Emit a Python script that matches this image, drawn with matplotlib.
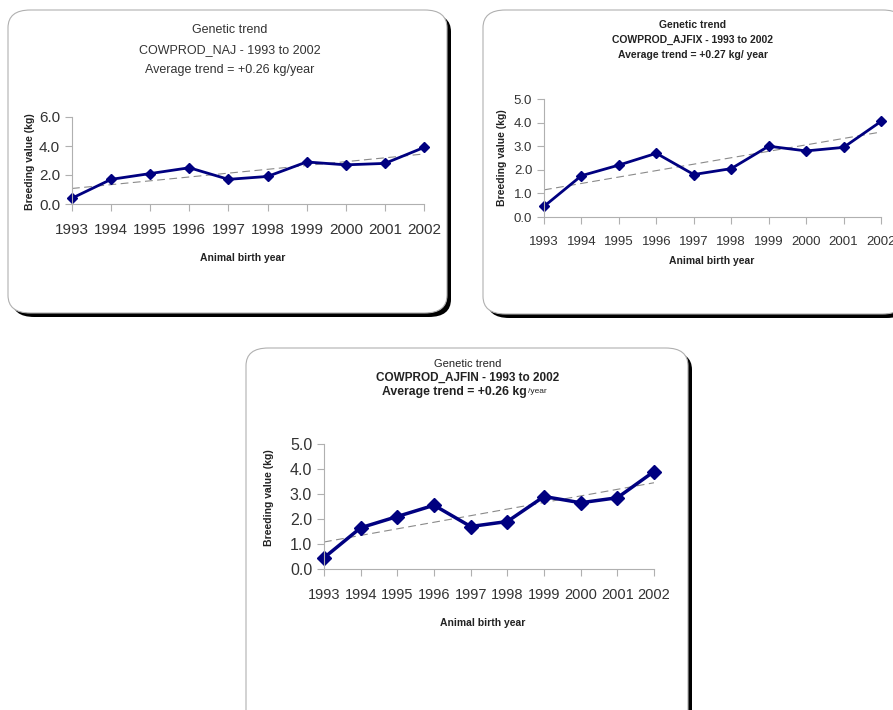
import numpy as np
import matplotlib
matplotlib.use("Agg")
import matplotlib.pyplot as plt
from matplotlib.patches import FancyBboxPatch

plt.rcParams['font.family'] = ['Liberation Sans', 'DejaVu Sans']

# data
years = [1993, 1994, 1995, 1996, 1997, 1998, 1999, 2000, 2001, 2002]
naj = [0.4, 1.7, 2.1, 2.5, 1.7, 1.9, 2.9, 2.7, 2.8, 3.9]
ajfix = [0.45, 1.75, 2.2, 2.7, 1.8, 2.05, 3.0, 2.8, 2.95, 4.05]
ajfin = [0.45, 1.65, 2.1, 2.55, 1.7, 1.9, 2.9, 2.65, 2.85, 3.9]

W, H = 893, 710
fig = plt.figure(figsize=(W / 100, H / 100), dpi=100)
fig.patch.set_facecolor("white")


def fx(x):
    return x / W


def fy(y):
    return 1 - y / H


def box(x0, y0, x1, y1):
    # black shadow then white rounded panel, kept under the axes
    sh = FancyBboxPatch((fx(x0 + 4), fy(y1 + 4)), fx(x1 - x0), (y1 - y0) / H,
                        boxstyle="round,pad=0,rounding_size=0.025",
                        transform=fig.transFigure, facecolor="black",
                        edgecolor="black", lw=0, zorder=-2)
    bx = FancyBboxPatch((fx(x0), fy(y1)), fx(x1 - x0), (y1 - y0) / H,
                        boxstyle="round,pad=0,rounding_size=0.025",
                        transform=fig.transFigure, facecolor="white",
                        edgecolor="#b0b0b0", lw=0.8, zorder=-1)
    fig.patches.append(sh)
    fig.patches.append(bx)


def panel(left, right, y0, ytop, ymax, vals, xfs, yfs, lw, ms):
    ax = fig.add_axes([fx(left), fy(y0), fx(right - left), (y0 - ytop) / H])
    ax.set_zorder(1)
    ax.set_xlim(years[0], years[-1])
    ax.set_ylim(0, ymax)
    ax.patch.set_alpha(0)
    for s in ["top", "right"]:
        ax.spines[s].set_visible(False)
    for s in ["left", "bottom"]:
        ax.spines[s].set_color("#b0b0b0")
        ax.spines[s].set_linewidth(0.8)
    ax.set_xticks(years)
    step = 2.0 if ymax == 6 else 1.0
    ax.set_yticks(np.arange(0, ymax + 0.01, step))
    ax.yaxis.set_major_formatter(matplotlib.ticker.FormatStrFormatter("%.1f"))
    ax.tick_params(axis="both", colors="#b0b0b0", labelcolor="#333333",
                   length=5, width=0.8)
    ax.tick_params(axis="x", pad=9, labelsize=xfs)
    ax.tick_params(axis="y", labelsize=yfs)
    # linear trend
    k, b = np.polyfit(years, vals, 1)
    ax.plot(years, [k * x + b for x in years], color="#8a8a8a", lw=0.8,
            dashes=(7, 4))
    ax.plot(years, vals, color="#000080", lw=lw, marker="D", ms=ms,
            clip_on=False)
    return ax


# panel 1
box(8, 10, 447, 313)
ax1 = panel(72, 424, 204, 117, 6, naj, 11, 11, 2.0, 5)
fig.text(fx(230), fy(30), "Genetic trend", ha="center", va="center",
         fontsize=9, color="#333333")
fig.text(fx(230), fy(50), "COWPROD_NAJ - 1993 to 2002", ha="center",
         va="center", fontsize=9, color="#333333")
fig.text(fx(230), fy(70), "Average trend = +0.26 kg/year", ha="center",
         va="center", fontsize=9, color="#333333")
fig.text(fx(30), fy(162), "Breeding value (kg)", rotation=90, ha="center",
         va="center", fontsize=7.5, fontweight="bold", color="#222222")
fig.text(fx(243), fy(258), "Animal birth year", ha="center", va="center",
         fontsize=7.5, fontweight="bold", color="#222222")

# panel 2
box(483, 10, 905, 314)
ax2 = panel(544, 881, 217, 99, 5, ajfix, 9.5, 9.5, 2.0, 5)
fig.text(fx(693), fy(25), "Genetic trend", ha="center", va="center",
         fontsize=7.5, fontweight="bold", color="#222222")
fig.text(fx(693), fy(40), "COWPROD_AJFIX - 1993 to 2002", ha="center",
         va="center", fontsize=7.5, fontweight="bold", color="#222222")
fig.text(fx(693), fy(55), "Average trend = +0.27 kg/ year", ha="center",
         va="center", fontsize=7.5, fontweight="bold", color="#222222")
fig.text(fx(502), fy(158), "Breeding value (kg)", rotation=90, ha="center",
         va="center", fontsize=7.5, fontweight="bold", color="#222222")
fig.text(fx(712), fy(261), "Animal birth year", ha="center", va="center",
         fontsize=7.5, fontweight="bold", color="#222222")

# panel 3
box(246, 348, 688, 740)
ax3 = panel(324, 654, 569, 444, 5, ajfin, 10.5, 11.5, 2.5, 7)
fig.text(fx(468), fy(364), "Genetic trend", ha="center", va="center",
         fontsize=8, color="#222222")
fig.text(fx(468), fy(378), "COWPROD_AJFIN - 1993 to 2002",
         ha="center", va="center", fontsize=8.5, fontweight="bold",
         color="#222222")
fig.text(fx(527), fy(392), "Average trend = +0.26 kg",
         ha="right", va="center", fontsize=8.8, fontweight="bold",
         color="#222222")
fig.text(fx(528), fy(391), "/year", ha="left", va="center", fontsize=6,
         color="#222222")
fig.text(fx(269), fy(498), "Breeding value (kg)", rotation=90, ha="center",
         va="center", fontsize=7.5, fontweight="bold", color="#222222")
fig.text(fx(483), fy(623), "Animal birth year", ha="center", va="center",
         fontsize=7.5, fontweight="bold", color="#222222")

fig.savefig("out.png", dpi=100)
